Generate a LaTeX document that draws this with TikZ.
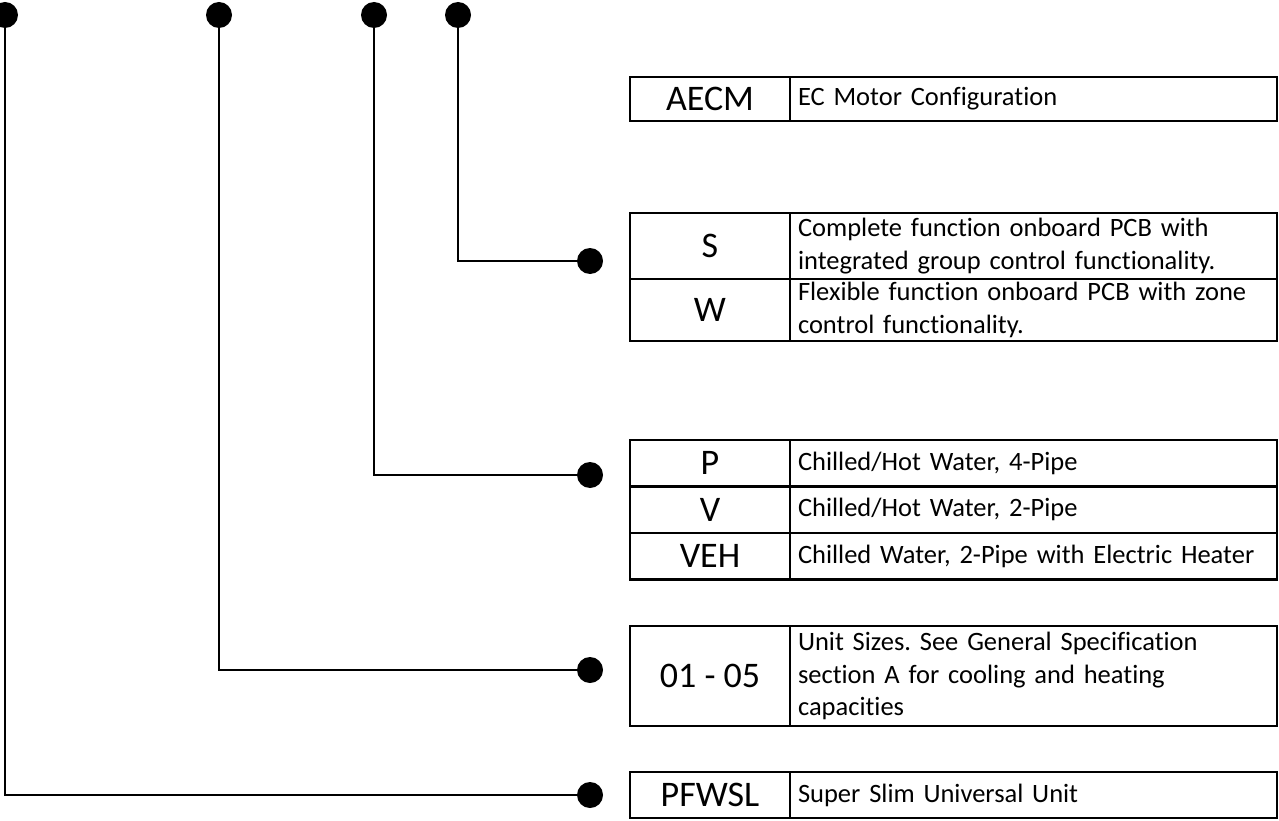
\documentclass[tikz,border=0pt]{standalone}
\usepackage{fontspec}
\setmainfont{Carlito}[Ligatures={NoCommon}]
\usepackage{tikz}
\usetikzlibrary{positioning}
\frenchspacing

\begin{document}
\begin{tikzpicture}[x=1pt, y=-1pt,
  codecell/.style={draw, line width=2.5pt, minimum width=160pt, inner sep=0pt,
              align=center, font=\fontsize{36}{43}\selectfont},
  desccell/.style={draw, line width=2.5pt, minimum width=487pt, inner xsep=8pt,
              inner ysep=0pt, text width=471pt, align=left,
              font=\fontsize{26.5}{32.5}\selectfont},
  dot/.style={circle, fill=black, inner sep=0pt, minimum size=26pt},
  wire/.style={line width=2pt}
]
  \useasboundingbox (0,0) rectangle (1279,821);

  % code tables
  \node[codecell, minimum height=44pt] (aecm) at (710, 99) {AECM};
  \node[desccell, minimum height=44pt] (aecmd) at (1033.5, 99) {EC Motor Configuration};

  \node[codecell, minimum height=66pt] (s) at (710, 246) {S};
  \node[desccell, minimum height=66pt] (sd) at (1033.5, 246)
    {Complete function onboard PCB with\\integrated group control functionality.};
  \node[codecell, minimum height=62pt] (w) at (710, 310) {W};
  \node[desccell, minimum height=62pt] (wd) at (1033.5, 310)
    {Flexible function onboard PCB with zone\\control functionality.};

  \node[codecell, minimum height=46.5pt] (p) at (710, 463) {P};
  \node[desccell, minimum height=46.5pt] (pd) at (1033.5, 463) {Chilled/Hot Water, 4-Pipe};
  \node[codecell, minimum height=46.5pt] (v) at (710, 509.5) {V};
  \node[desccell, minimum height=46.5pt] (vd) at (1033.5, 509.5) {Chilled/Hot Water, 2-Pipe};
  \node[codecell, minimum height=46.5pt] (veh) at (710, 556) {VEH};
  \node[desccell, minimum height=46.5pt] (vehd) at (1033.5, 556)
    {Chilled Water, 2-Pipe with Electric Heater};

  \node[codecell, minimum height=100pt] (size) at (710, 676) {01 - 05};
  \node[desccell, minimum height=100pt] (sized) at (1033.5, 676)
    {Unit Sizes. See General Specification\\section A for cooling and heating\\capacities};

  \node[codecell, minimum height=46pt] (pfwsl) at (710, 795) {PFWSL};
  \node[desccell, minimum height=46pt] (pfwsld) at (1033.5, 795) {Super Slim Universal Unit};

  % dots and leaders
  \node[dot] (t1) at (5, 15) {};
  \node[dot] (t2) at (219, 15) {};
  \node[dot] (t3) at (374, 15) {};
  \node[dot] (t4) at (458, 15) {};
  \node[dot] (e1) at (590, 795) {};
  \node[dot] (e2) at (590, 670) {};
  \node[dot] (e3) at (590, 475) {};
  \node[dot] (e4) at (590, 261) {};
  \draw[wire] (t1) |- (e1);
  \draw[wire] (t2) |- (e2);
  \draw[wire] (t3) |- (e3);
  \draw[wire] (t4) |- (e4);
\end{tikzpicture}
\end{document}
